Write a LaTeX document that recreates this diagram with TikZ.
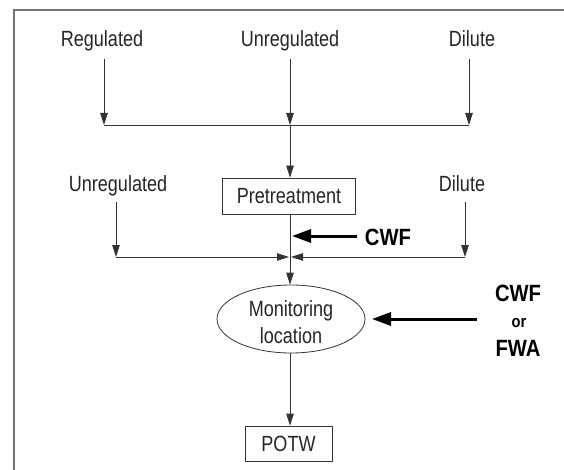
\documentclass[tikz,border=0pt]{standalone}
\usepackage{fontspec}
\setmainfont{Liberation Sans}[FakeStretch=0.82]
\newfontfamily\boldnarrow{Liberation Sans Bold}[FakeStretch=0.86]
\usetikzlibrary{arrows.meta,shapes.geometric}
\tikzset{
  lbl/.style={inner sep=0pt, font=\fontsize{22}{26}\selectfont, text=black!85},
  boldlbl/.style={inner sep=0pt, font=\fontsize{23.5}{26}\boldnarrow},
  orlbl/.style={inner sep=0pt, font=\fontsize{17}{20}\boldnarrow},
  thin/.style={line width=0.8pt, draw=black!80},
  arr/.style={thin, -{Triangle[length=12pt,width=7.5pt]}},
  thickarr/.style={line width=3pt, -{Triangle[length=19pt,width=13pt]}},
  boxnode/.style={draw=black!80, line width=0.8pt, inner sep=0pt, font=\fontsize{22}{26}\selectfont, text=black!85},
  framel/.style={draw=black!55, line width=1.6pt}
}
\begin{document}
\begin{tikzpicture}[x=1pt,y=-1pt]
\useasboundingbox (0,0) rectangle (564,470);
\fill[white] (0,0) rectangle (564,470);
\draw[framel] (14,470) -- (14,10) -- (564,10);

% top row
\node[lbl,anchor=base] (reg) at (102,47) {Regulated};
\node[lbl,anchor=base] (unreg) at (290,47) {Unregulated};
\node[lbl,anchor=base] (dil) at (472,47) {Dilute};
\coordinate (regS) at (104,59);
\coordinate (unregS) at (290,59);
\coordinate (dilS) at (469,59);
\coordinate (regE) at (104,125);
\coordinate (unregE) at (290,125);
\coordinate (dilE) at (469,125);
\draw[arr] (regS) -- (regE);
\draw[arr] (unregS) -- (unregE);
\draw[arr] (dilS) -- (dilE);
\draw[thin] (regE) -- (dilE);

% pretreatment
\node[boxnode, minimum width=133pt, minimum height=36pt] (pre) at (289,196) {Pretreatment};
\draw[arr] (unregE) -- (unregE |- pre.north);

% second row
\node[lbl,anchor=base] (unreg2) at (118,192) {Unregulated};
\node[lbl,anchor=base] (dil2) at (462,192) {Dilute};
\coordinate (u2S) at (116,202);
\coordinate (u2E) at (116,257);
\coordinate (d2S) at (465,202);
\coordinate (d2E) at (465,257);
\coordinate (jL) at (289,257);
\coordinate (jR) at (291,257);
\draw[arr] (u2S) -- (u2E);
\draw[arr] (d2S) -- (d2E);
\draw[arr] (u2E) -- (jL);
\draw[arr] (d2E) -- (jR);

% CWF at pretreatment
\node[boldlbl,anchor=base] (cwf1) at (388,245) {CWF};
\coordinate (cwf1S) at (357,236);
\coordinate (cwf1E) at (292,236);
\draw[thickarr] (cwf1S) -- (cwf1E);

% monitoring location
\node[ellipse, draw=black!80, line width=0.8pt, minimum width=148pt, minimum height=68pt, inner sep=0pt] (mon) at (291,319) {};
\node[align=center, inner sep=0pt, font=\fontsize{22}{26.7}\selectfont, text=black!85, yshift=-3pt] (monT) at (mon.center) {Monitoring\\location};
\draw[arr] (pre.south -| unregE) -- (mon.north -| unregE);

% CWF or FWA
\node[boldlbl,anchor=base] (cwf2) at (518,301) {CWF};
\node[orlbl,anchor=base] (or) at (519,327) {or};
\node[boldlbl,anchor=base] (fwa) at (518,356) {FWA};
\coordinate (bigS) at (477,319);
\coordinate (bigE) at (372,319);
\draw[thickarr] (bigS) -- (bigE);

% POTW
\node[boxnode, minimum width=87pt, minimum height=35pt] (potw) at (288.5,443.5) {POTW};
\draw[arr] (mon.south -| unregE) -- (potw.north -| unregE);
\end{tikzpicture}
\end{document}
